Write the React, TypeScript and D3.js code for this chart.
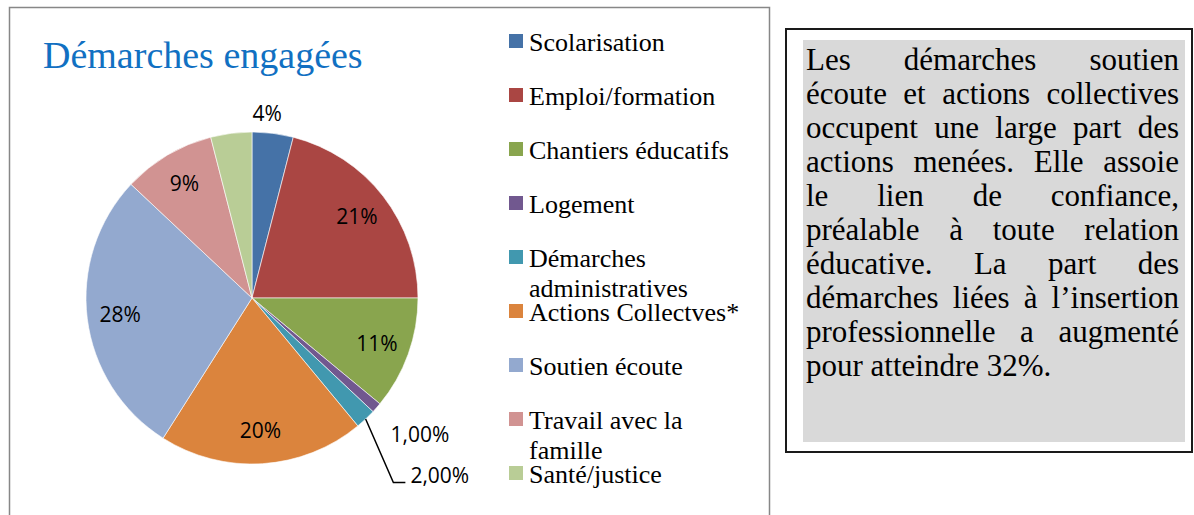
import React, { useMemo } from "react";
import * as d3 from "d3";

const categories = [
  "Scolarisation",
  "Emploi/formation",
  "Chantiers éducatifs",
  "Logement",
  "Démarches administratives",
  "Actions Collectves*",
  "Soutien écoute",
  "Travail avec la famille",
  "Santé/justice",
];
const legendLines = [
  ["Scolarisation"],
  ["Emploi/formation"],
  ["Chantiers éducatifs"],
  ["Logement"],
  ["Démarches", "administratives"],
  ["Actions Collectves*"],
  ["Soutien écoute"],
  ["Travail avec la", "famille"],
  ["Santé/justice"],
];
const values = [4, 21, 11, 1, 2, 20, 28, 9, 4];
const valueLabels = ["4%", "21%", "11%", "1,00%", "2,00%", "20%", "28%", "9%", ""];
const colors = [
  "#4572A7",
  "#AA4643",
  "#89A54E",
  "#71588F",
  "#4198AF",
  "#DB843D",
  "#93A9CF",
  "#D19392",
  "#B9CD96",
];
const title = "Démarches engagées";
const noteLines = [
  "Les démarches soutien",
  "écoute et actions collectives",
  "occupent une large part des",
  "actions menées. Elle assoie",
  "le lien de confiance,",
  "préalable à toute relation",
  "éducative. La part des",
  "démarches liées à l’insertion",
  "professionnelle a augmenté",
  "pour atteindre 32%.",
];

const W = 1194;
const H = 515;
const SERIF = '"Liberation Serif"';
const SANS = '"Open Sans"';

const R = 166;
const CX = 252;
const CY = 298;

const pt = (angle: number, r: number) => [r * Math.sin(angle), -r * Math.cos(angle)];

function measure(text: string, font: string): number {
  const c = document.createElement("canvas");
  const ctx = c.getContext("2d");
  if (!ctx) return text.length * 14;
  ctx.font = font;
  return ctx.measureText(text).width;
}

export default function App() {
  const arcs = useMemo(() => {
    const data = categories.map((c, i) => ({ c, v: values[i], label: valueLabels[i], color: colors[i] }));
    return d3
      .pie<any>()
      .sort(null)
      .value((d: any) => d.v)(data);
  }, []);
  const arc = d3.arc<any>().innerRadius(0).outerRadius(R);

  const noteLeft = 806;
  const noteRight = 1179;
  const noteFont = `31px ${SERIF}`;
  const noteWords = useMemo(() => {
    const out: { w: string; x: number; y: number }[] = [];
    noteLines.forEach((line, i) => {
      const y = 70 + i * 34;
      if (i === noteLines.length - 1) {
        out.push({ w: line, x: noteLeft, y });
        return;
      }
      const words = line.split(" ");
      const widths = words.map((w) => measure(w, noteFont));
      const total = widths.reduce((s, v) => s + v, 0);
      const gap = words.length > 1 ? (noteRight - noteLeft - total) / (words.length - 1) : 0;
      let x = noteLeft;
      words.forEach((w, k) => {
        out.push({ w, x, y });
        x += widths[k] + gap;
      });
    });
    return out;
  }, []);

  const labels: React.ReactNode[] = [];
  arcs.forEach((a: any, i: number) => {
    if (!a.data.label) return;
    const mid = (a.startAngle + a.endAngle) / 2;
    const v = a.data.v;
    const common = { fontFamily: SANS, fontSize: "21px" };
    if (v >= 5) {
      const [x, y] = pt(mid, R * 0.8);
      labels.push(
        <text key={i} x={x} y={y} dy="0.36em" textAnchor="middle" style={common} fill="#000">
          {a.data.label}
        </text>
      );
    } else if (v >= 3) {
      const [x, y] = pt(mid, R * 1.12);
      labels.push(
        <text key={i} x={x - 8} y={y} dy="0.36em" textAnchor="middle" style={common} fill="#000">
          {a.data.label}
        </text>
      );
    } else if (v < 1.5) {
      const [x, y] = pt(mid, R * 1.3);
      labels.push(
        <text key={i} x={x + 6} y={y - 6} dy="0.36em" textAnchor="middle" style={common} fill="#000">
          {a.data.label}
        </text>
      );
    } else {
      const [x0, y0] = pt(mid, R);
      const [x1, y1] = pt(mid + 0.1, R * 1.4);
      const x2 = x1 + 12;
      labels.push(
        <g key={i}>
          <path d={`M${x0},${y0}L${x1},${y1}L${x2},${y1}`} fill="none" stroke="#000" strokeWidth={1.5} />
          <text x={x2 + 5} y={y1 + 1} textAnchor="start" style={common} fill="#000">
            {a.data.label}
          </text>
        </g>
      );
    }
  });

  return (
    <svg width={W} height={H} style={{ position: "absolute", left: 0, top: 0 }}>
      <rect x={9.5} y={7.5} width={760} height={600} fill="#fff" stroke="#878787" strokeWidth={1.5} />
      <text x={43} y={68} style={{ fontFamily: SERIF, fontSize: "38px" }} fill="#1170C2">
        {title}
      </text>

      <g transform={`translate(${CX},${CY})`}>
        {arcs.map((a: any, i: number) => (
          <path key={i} d={arc(a) as string} fill={a.data.color} stroke="#fff" strokeWidth={0.6} />
        ))}
        {labels}
      </g>

      <g>
        {legendLines.map((lines, i) => {
          const by = 51 + i * 54;
          return (
            <g key={i}>
              <rect x={509} y={by - 17} width={14} height={14} fill={colors[i]} />
              <text x={529} y={by} style={{ fontFamily: SERIF, fontSize: "26px" }} fill="#000">
                {lines.map((l, j) => (
                  <tspan key={j} x={529} dy={j === 0 ? 0 : 30}>
                    {l}
                  </tspan>
                ))}
              </text>
            </g>
          );
        })}
      </g>

      <rect x={786} y={29} width={406} height={423} fill="#fff" stroke="#1a1a1a" strokeWidth={2} />
      <rect x={803} y={40} width={382} height={402} fill="#d9d9d9" />
      <g>
        {noteWords.map((n, i) => (
          <text key={i} x={n.x} y={n.y} style={{ fontFamily: SERIF, fontSize: "31px" }} fill="#000">
            {n.w}
          </text>
        ))}
      </g>
    </svg>
  );
}
